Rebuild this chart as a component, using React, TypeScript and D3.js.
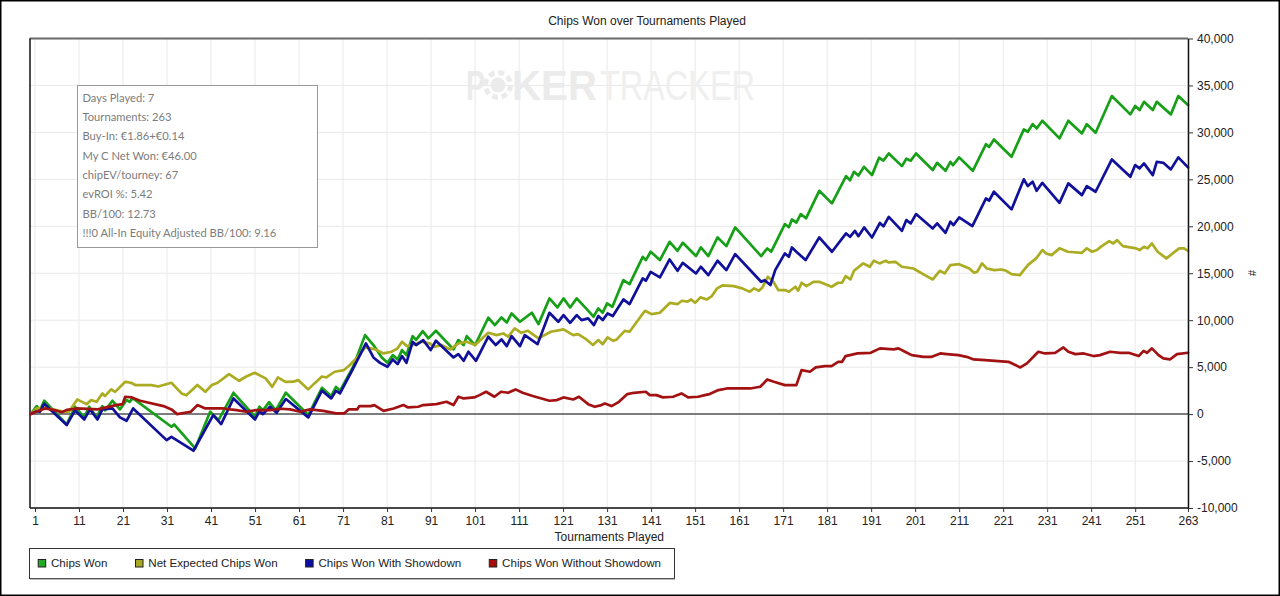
import React, { useEffect, useRef } from 'react';
import * as d3 from 'd3';

type Pt = [number, number];

// [tournament, chips]
const chipsWon: Pt[] = [
  [0, 0], [1.4, 850], [2.1, 400], [3.1, 1420], [8.2, -1100], [10.1, 780], [12.2, -350], [13.3, 780], [15, -350],
  [16.3, 850], [16.9, 400], [18.6, 1420], [20.3, 500], [21.8, 1500], [22.5, 1300], [23.2, 1700], [32, -1350],
  [32.6, -1100], [37.4, -3660], [40.8, 250], [42.7, -640], [46.1, 2270], [51, -280], [52, 780], [52.8, 400],
  [54.2, 1280], [55.7, 400], [58, 2270], [63.1, -100], [66.2, 2800], [68.3, 1920], [69.4, 2900], [70.3, 2480],
  [73.3, 5040], [76, 8410], [77.9, 7350], [79.8, 6030], [81.1, 5460], [82.3, 6280], [83.4, 5820], [84.4, 6820],
  [85.4, 6280], [86.8, 8310], [87.6, 7900], [89.1, 8840], [90.4, 8060], [92.1, 8880], [96.1, 6890], [97.2, 7880],
  [98.4, 7350], [99.1, 8310], [101, 7350], [104, 10260], [105.5, 9480], [107, 10290], [108.2, 9750], [109.3, 10720],
  [111.2, 9830], [113.9, 10790], [115.4, 9580], [117.9, 12320], [119.7, 11360], [121.1, 12320], [122.6, 11360],
  [124.1, 12320], [127.1, 10800], [127.9, 10370], [129, 11260], [130, 10790], [131, 11790], [132.2, 11430],
  [134.7, 14270], [136.1, 13840], [139.1, 16750], [139.8, 16400], [140.9, 17290], [143, 16400], [145.2, 18350],
  [147, 17390], [148.2, 18240], [151.2, 16830], [152.3, 17750], [154, 16830], [156.1, 18810], [158.1, 17890],
  [160.1, 19880], [166, 16830], [167.4, 17640], [168.3, 17300], [171.4, 20230], [172.3, 19900], [173, 20730],
  [174, 20400], [175, 21300], [176.2, 20850], [179.2, 23780], [182.1, 22440], [185.3, 25350], [186.2, 24900],
  [187.1, 25800], [188.1, 25400], [189.4, 26330], [191.2, 25450], [192.8, 27300], [193.8, 27000], [195, 27760],
  [198, 26410], [199, 27200], [200, 26990], [201.2, 27760], [205, 25990], [206, 26760], [207.9, 25910], [209, 26870],
  [209.6, 26500], [211, 27340], [214.1, 25910], [217.1, 28750], [217.8, 28450], [218.9, 29250], [222.9, 27410],
  [225.7, 30320], [226.6, 30070], [227.7, 30880], [228.6, 30420], [229.9, 31240], [233.8, 29360], [235.8, 31240],
  [238.9, 29890], [240, 30880], [242, 29960], [245.7, 33870], [249.9, 31920], [251, 32810], [252, 32380],
  [253, 33260], [255, 32380], [255.9, 33260], [259.1, 31920], [260.8, 33870], [263, 32910],
];

const netExpected: Pt[] = [
  [0, 0], [1.4, 600], [3.3, 700], [5.1, 500], [7.6, 250], [8.7, 250], [10.6, 1560], [11.7, 1300], [12.7, 1060],
  [13.8, 1490], [15, 1310], [16.3, 2200], [16.9, 1920], [18.3, 2630], [19.2, 2370], [21.5, 3440], [22.8, 3340],
  [23.9, 3080], [27.5, 3080], [29, 2940], [32, 3340], [34.3, 2200], [35.4, 2000], [37.9, 3100], [39.7, 2370],
  [41.2, 3100], [42.5, 3340], [45.1, 4260], [47.4, 3550], [48.9, 3980], [50.9, 4400], [53.4, 3800], [54.9, 2900],
  [56.2, 3910], [57.9, 3440], [59.7, 3450], [60.8, 3620], [63.1, 2630], [64.5, 3270], [66.2, 4000], [67.2, 3900],
  [69.1, 4510], [71.2, 4690], [72.5, 5200], [74.2, 6030], [76, 7100], [78.3, 6890], [80.2, 6460], [82, 6640],
  [83.4, 7000], [84.4, 7700], [85.5, 7240], [86.9, 7350], [88.8, 7700], [90.7, 7530], [91.8, 7170], [93.3, 7350],
  [95.4, 6890], [97.2, 7530], [99.1, 7700], [101, 7350], [104, 8660], [105.9, 8410], [107.4, 8590], [108.5, 8240],
  [110, 9120], [111.5, 8660], [113, 8880], [115.4, 8060], [118.2, 8770], [121.1, 9020], [123.3, 8410],
  [124.4, 8520], [126.3, 7950], [127.8, 7350], [129, 7880], [130, 7450], [131.1, 8170], [132.4, 7800],
  [133.2, 7950], [135, 8870], [136.1, 8770], [139.6, 11000], [141.1, 10650], [143, 10790], [145.3, 11850],
  [147, 11720], [148, 12070], [149.3, 11970], [150.1, 12210], [151, 11850], [152.2, 12430], [153.7, 12210],
  [154.8, 12570], [156, 13390], [157.2, 13700], [159.8, 13630], [161.7, 13390], [163.4, 13030], [164.4, 13390],
  [165.5, 13140], [166.3, 13490], [167.5, 14620], [168.8, 14090], [169.9, 13210], [171.4, 13210], [172.3, 13030],
  [173.8, 13560], [174.4, 13140], [175.2, 13990], [176.3, 13630], [177.9, 14090], [179.2, 14090], [182, 13560],
  [183.5, 13990], [184.4, 13990], [185.2, 14700], [186.3, 14340], [187.1, 15260], [189.2, 16050], [190.7, 15690],
  [191.6, 16330], [192.9, 16050], [194.3, 16330], [195, 16150], [196.5, 16220], [198, 15690], [200.6, 15510],
  [203.2, 14800], [205, 14340], [206.6, 15260], [207.7, 14980], [209, 15870], [211, 15970], [213.3, 15510],
  [214.4, 15050], [215.1, 15160], [216.2, 16050], [217.3, 15510], [219, 15340], [220.6, 15400], [221.7, 15260],
  [222.9, 14910], [224.8, 14800], [226.6, 15870], [228.5, 16580], [229.9, 17470], [230.8, 17110], [232, 16930],
  [233.8, 17650], [235.7, 17290], [238.9, 17180], [240, 17650], [241.2, 17290], [242.3, 17470], [243.4, 17890],
  [245.1, 18420], [246, 18170], [246.9, 18530], [248.2, 17890], [251.2, 17650], [252, 17470], [253, 17820],
  [253.8, 17650], [254.8, 18180], [256.1, 17290], [258.1, 16580], [259.5, 17110], [261, 17650], [262.1, 17650],
  [263, 17390],
];

const withShowdown: Pt[] = [
  [0, 0], [1.4, 300], [2.1, 250], [3.1, 1100], [8.2, -1170], [10.1, 400], [12.2, -570], [13.5, 500], [15.2, -570],
  [16.3, 500], [18.6, 600], [20.3, -350], [21.8, -710], [23.3, 600], [30.9, -2770], [32, -2420], [37, -3900],
  [41.5, -100], [43.3, -1060], [46.1, 1670], [51, -570], [52, 300], [52.8, 0], [54.4, 780], [55.9, 140], [58, 1600],
  [63.1, -350], [66.2, 2500], [68.3, 1670], [69.4, 2480], [70.3, 2200], [72.9, 4510], [76.2, 7530], [77.9, 6030],
  [79.4, 5460], [81.1, 5040], [82.3, 5820], [83.4, 5320], [84.4, 6180], [85.4, 5460], [86.8, 7700], [87.6, 7350],
  [89.2, 7880], [90.9, 6820], [92.1, 7810], [96.1, 6030], [97.2, 6390], [98.4, 5680], [99.5, 6640], [101.2, 5680],
  [104, 8240], [105.7, 7350], [107, 7950], [108.2, 7240], [109.3, 8310], [111.2, 7240], [112.3, 8410],
  [115.2, 7450], [117.9, 10790], [119.9, 9830], [121.1, 10540], [122.6, 9720], [124.1, 10540], [125.2, 10010],
  [126.7, 10190], [128, 9480], [129, 10440], [130, 10010], [131.1, 10720], [132.3, 10440], [134.7, 12210],
  [136.1, 11720], [139.1, 14450], [139.8, 14200], [140.9, 15150], [143, 14560], [145.2, 16470], [147, 15260],
  [148.2, 16110], [151.2, 14980], [152.3, 15690], [154, 14800], [156.1, 16330], [158.1, 15340], [160.1, 17040],
  [166, 14090], [166.8, 14260], [168.1, 13740], [169.2, 15340], [171.4, 17110], [172.3, 16750], [173, 17750],
  [174, 17290], [176.1, 16400], [179.2, 18810], [182.1, 17290], [185.3, 19240], [186.2, 18880], [187.3, 19520],
  [188.1, 18950], [189.4, 19880], [191.2, 18810], [193, 20370], [193.8, 19990], [195, 21010], [198, 19520],
  [199, 20660], [200, 20310], [201.2, 21300], [205, 19770], [206, 20310], [207.9, 19310], [209, 20490],
  [209.7, 20130], [211, 20940], [214, 20020], [217.1, 22970], [217.8, 22720], [218.9, 23680], [222.9, 21800],
  [225.7, 25000], [226.6, 24280], [227.7, 24750], [228.6, 23780], [229.9, 24630], [233.8, 22500], [235.8, 24570],
  [238.9, 23320], [240, 24280], [242, 23680], [245.7, 27120], [249.9, 25270], [251, 26520], [252, 26170],
  [253, 26700], [255, 25450], [255.9, 26870], [257.4, 26760], [259.1, 26060], [260.8, 27340], [263, 26270],
];

const withoutShowdown: Pt[] = [
  [0, 0], [1.2, 250], [3.3, 600], [5.2, 450], [7.1, 200], [8.2, 450], [10.5, 600], [15.2, 500], [19.4, 950],
  [20.9, 1060], [21.5, 1850], [23, 1780], [24.9, 1420], [30.2, 850], [32, 500], [33.3, 0], [36.4, 250],
  [37.9, 960], [39.7, 600], [43.8, 600], [45.4, 500], [46.8, 430], [49, 250], [51.3, 430], [54.4, 430],
  [56.8, 570], [59, 500], [61.2, 250], [63.5, 500], [65, 430], [66.5, 350], [69.4, 70], [71.2, 70], [72.3, 500],
  [74.2, 500], [74.7, 850], [77.3, 850], [78.1, 960], [80.2, 350], [82.5, 600], [84.7, 960], [85.8, 710],
  [88.1, 780], [89.2, 960], [92.2, 1060], [94.5, 1310], [96.1, 960], [97.2, 1850], [98.4, 1670], [100.8, 1780],
  [102, 2020], [103.5, 2380], [105.4, 1850], [106.9, 2380], [108.5, 2270], [110.2, 2630], [111.8, 2270],
  [114.1, 1920], [117.9, 1420], [119.6, 1490], [121.1, 1780], [123.3, 1560], [124.6, 1850], [126.7, 1060],
  [128.2, 780], [129.7, 960], [130.5, 1130], [132, 850], [133.7, 1310], [135.6, 2130], [137.1, 2270],
  [139.8, 2380], [140.7, 2020], [142.2, 2020], [143.7, 1780], [146, 1850], [147.9, 2200], [149.4, 1780],
  [151.7, 1850], [153.2, 2020], [154.3, 2130], [156.3, 2560], [158.2, 2730], [163.5, 2730], [165.8, 2910],
  [167.4, 3690], [168.9, 3440], [171.4, 3090], [174, 3090], [175.2, 4690], [177.1, 4510], [178.4, 4970],
  [180.5, 5110], [182, 5110], [183.5, 5570], [184.4, 5570], [185.2, 6180], [187.9, 6460], [190.9, 6530],
  [193, 7000], [196.1, 6890], [197.2, 7000], [198.7, 6640], [200.2, 6280], [202.9, 6100], [204.8, 6100],
  [206.7, 6460], [208.2, 6390], [210.8, 6280], [212.7, 6100], [214.3, 5820], [216.9, 5750], [219.9, 5640],
  [222.2, 5570], [224.9, 4970], [226.4, 5400], [229, 6640], [230.5, 6460], [232.8, 6530], [234.7, 7100],
  [235.8, 6640], [237.4, 6390], [239.3, 6460], [241.5, 6180], [243, 6280], [245.3, 6640], [247.6, 6530],
  [249.5, 6530], [251.8, 6180], [252.9, 6740], [253.7, 6530], [254.8, 7000], [256.3, 6280], [257.4, 5930],
  [258.9, 5820], [260.5, 6390], [263, 6530],
];

const seriesNames = ['Chips Won', 'Net Expected Chips Won', 'Chips Won With Showdown', 'Chips Won Without Showdown'];
const seriesData = [chipsWon, netExpected, withShowdown, withoutShowdown];
const lineColors = ['#17a017', '#acac22', '#10109a', '#a31212'];
const swatchColors = ['#22aa22', '#a8a820', '#0c0ca8', '#a80c0c'];

const xTicks = [1, 11, 21, 31, 41, 51, 61, 71, 81, 91, 101, 111, 121, 131, 141, 151, 161, 171, 181, 191, 201, 211, 221, 231, 241, 251, 263];
const yTicks = [-10000, -5000, 0, 5000, 10000, 15000, 20000, 25000, 30000, 35000, 40000];

const infoLines = [
  'Days Played: 7',
  'Tournaments: 263',
  'Buy-In: €1.86+€0.14',
  'My C Net Won: €46.00',
  'chipEV/tourney: 67',
  'evROI %: 5.42',
  'BB/100: 12.73',
  '!!!0 All-In Equity Adjusted BB/100: 9.16',
];

const W = 1280;
const H = 596;
const FONT = '"Liberation Sans", Arial, sans-serif';

const App: React.FC = () => {
  const svgRef = useRef<SVGSVGElement>(null);

  useEffect(() => {
    if (!svgRef.current) return;
    const svg = d3.select(svgRef.current);
    svg.selectAll('*').remove();

    const left = 30.6, right = 1188, top = 38.5, bottom = 508;

    const x = d3.scaleLinear().domain([0, 263]).range([left, right]);
    const y = d3.scaleLinear().domain([-10000, 40000]).range([bottom, top]);

    svg.append('rect').attr('x', 0).attr('y', 0).attr('width', W).attr('height', H).attr('fill', '#fff');
    svg.append('rect').attr('x', 0.75).attr('y', 0.75).attr('width', W - 1.5).attr('height', H - 1.5)
      .attr('fill', 'none').attr('stroke', '#000').attr('stroke-width', 1.5);

    // title
    svg.append('text').attr('x', 647).attr('y', 25).attr('text-anchor', 'middle')
      .attr('font-family', FONT).attr('font-size', 12).attr('fill', '#222')
      .text('Chips Won over Tournaments Played');

    // grid
    const grid = svg.append('g').attr('stroke', '#e9e9e9').attr('stroke-width', 1);
    grid.selectAll('line.v').data(xTicks).enter().append('line')
      .attr('x1', d => x(d)).attr('x2', d => x(d)).attr('y1', top).attr('y2', bottom);
    grid.selectAll('line.h').data(yTicks).enter().append('line')
      .attr('x1', left).attr('x2', right).attr('y1', d => y(d)).attr('y2', d => y(d));

    // watermark
    const wm = svg.append('g').attr('font-family', FONT).attr('fill', '#ebebeb');
    wm.append('text').attr('x', 466).attr('y', 100).attr('font-size', 42).attr('font-weight', 'bold')
      .attr('textLength', 19).attr('lengthAdjust', 'spacingAndGlyphs').text('P');
    wm.append('circle').attr('cx', 498).attr('cy', 85).attr('r', 12.5)
      .attr('fill', 'none').attr('stroke', '#ebebeb').attr('stroke-width', 5).attr('stroke-dasharray', '6 3.8');
    wm.append('circle').attr('cx', 498).attr('cy', 85).attr('r', 7.5).attr('fill', '#ebebeb');
    wm.append('text').attr('x', 512).attr('y', 100).attr('font-size', 42).attr('font-weight', 'bold')
      .attr('textLength', 85).attr('lengthAdjust', 'spacingAndGlyphs').text('KER');
    wm.append('text').attr('x', 600).attr('y', 100).attr('font-size', 42).attr('fill', '#efefef')
      .attr('textLength', 155).attr('lengthAdjust', 'spacingAndGlyphs').text('TRACKER');

    // info box
    const info = svg.append('g');
    info.append('rect').attr('x', 77.5).attr('y', 85.5).attr('width', 240).attr('height', 162)
      .attr('fill', '#fff').attr('stroke', '#9a9a9a');
    info.selectAll('text').data(infoLines).enter().append('text')
      .attr('x', 82.5).attr('y', (_, i) => 101.7 + i * 19.3)
      .attr('font-family', 'Lato, "Noto Sans", sans-serif').attr('font-size', 11.2).attr('fill', '#7c7c7c')
      .text(d => d);

    // frame
    svg.append('line').attr('x1', left - 1).attr('x2', right).attr('y1', top).attr('y2', top)
      .attr('stroke', '#6a6a6a').attr('stroke-width', 2);
    svg.append('line').attr('x1', 30).attr('x2', 30).attr('y1', top).attr('y2', bottom)
      .attr('stroke', '#111').attr('stroke-width', 1.5);

    // zero line
    svg.append('line').attr('x1', left).attr('x2', right).attr('y1', y(0)).attr('y2', y(0))
      .attr('stroke', '#555').attr('stroke-width', 1.5);

    // series
    const line = d3.line<Pt>().x(d => x(d[0])).y(d => y(d[1]));
    const lines = svg.append('g').attr('fill', 'none').attr('stroke-width', 2.7)
      .attr('stroke-linejoin', 'round').attr('stroke-linecap', 'round');
    seriesData.forEach((data, i) => {
      lines.append('path').attr('d', line(data) as string).attr('stroke', lineColors[i]);
    });

    // x axis
    const xAxis = svg.append('g').attr('transform', `translate(0,${bottom})`)
      .call(d3.axisBottom(x).tickValues(xTicks).tickSize(4).tickSizeOuter(0).tickPadding(4).tickFormat(d3.format('d')));
    xAxis.select('.domain').attr('stroke', '#111').attr('stroke-width', 1.5).attr('d', `M${30},0H${right}`);
    xAxis.selectAll('.tick line').attr('stroke', '#333');
    xAxis.selectAll('.tick text').attr('font-family', FONT).attr('font-size', 12).attr('fill', '#222');

    svg.append('text').attr('x', (left + right) / 2).attr('y', 541).attr('text-anchor', 'middle')
      .attr('font-family', FONT).attr('font-size', 12).attr('fill', '#222').text('Tournaments Played');

    // y axis (right)
    const fmt = (v: number) => d3.format(',')(v).replace('−', '-');
    const yAxis = svg.append('g').attr('transform', `translate(${right},0)`)
      .call(d3.axisRight(y).tickValues(yTicks).tickSize(5).tickSizeOuter(0).tickPadding(4).tickFormat(d => fmt(+d)));
    yAxis.select('.domain').attr('stroke', '#111').attr('stroke-width', 1.5);
    yAxis.selectAll('.tick line').attr('stroke', '#333');
    yAxis.selectAll('.tick text').attr('font-family', FONT).attr('font-size', 12).attr('fill', '#222');

    svg.append('text').attr('transform', `translate(1252,273) rotate(90)`).attr('text-anchor', 'middle')
      .attr('dy', '0.35em').attr('font-family', FONT).attr('font-size', 11).attr('fill', '#222').text('#');

    // legend
    const lg = svg.append('g');
    lg.append('rect').attr('x', 29.5).attr('y', 548.5).attr('width', 645).attr('height', 30)
      .attr('fill', '#fff').attr('stroke', '#333');
    lg.append('line').attr('x1', 30).attr('x2', 675).attr('y1', 579).attr('y2', 579)
      .attr('stroke', '#777').attr('stroke-width', 1);
    let cx = 37.7;
    seriesNames.forEach((name, i) => {
      lg.append('rect').attr('x', cx + 0.5).attr('y', 559.5).attr('width', 7.5).attr('height', 7.5)
        .attr('fill', swatchColors[i]).attr('stroke', '#222');
      const t = lg.append('text').attr('x', cx + 13.3).attr('y', 567)
        .attr('font-family', FONT).attr('font-size', 11.6).attr('fill', '#222').text(name);
      const w = (t.node() as SVGTextElement).getComputedTextLength();
      cx = cx + 13.3 + w + 27.5;
    });
  }, []);

  return (
    <div style={{ position: 'absolute', left: 0, top: 0 }}>
      <svg ref={svgRef} width={W} height={H} style={{ display: 'block' }}></svg>
    </div>
  );
};

export default App;
